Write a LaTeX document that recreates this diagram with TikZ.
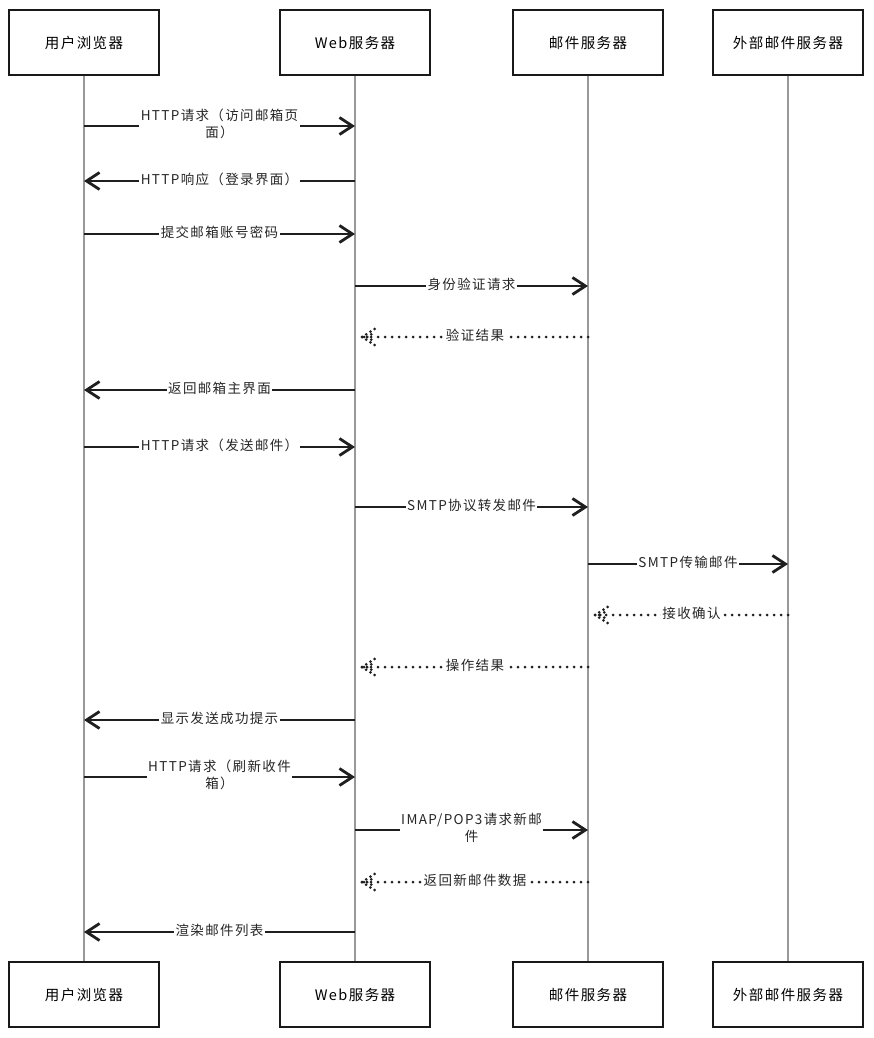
\documentclass[tikz,border=0pt]{standalone}
\usepackage{fontspec}
\setmainfont{Noto Sans CJK SC}[LetterSpace=10]
\usetikzlibrary{arrows.meta,calc}
\tikzset{
  actor/.style={draw=black!90, line width=2.6pt, fill=white, minimum width=150pt, minimum height=65pt, inner sep=0pt, font=\fontsize{14.5}{16}\selectfont},
  life/.style={draw=black!40, line width=1.1pt},
  msg/.style={draw=black!88, line width=2.8pt, -{Straight Barb[length=13pt,width=17pt]}},
  reply/.style={draw=black!88, line width=3pt, dash pattern=on 0pt off 7pt, line cap=round},
  replyhead/.style={draw=black!88, line width=3pt, dash pattern=on 0pt off 5pt, line cap=round},
  lbl/.style={fill=white, text=black!85, inner sep=1.5pt, font=\fontsize{13.5}{17.5}\selectfont, align=center, yshift=2pt}
}
\newcommand\solidmsg[4]{%
  \coordinate (m) at (0,-#3);
  \draw[msg] (#1 |- m) -- node[lbl]{#4} (#2 |- m);}
\newcommand\replymsg[4]{%
  \coordinate (m) at (0,-#3);
  \coordinate (t) at ($(#2 |- m)+(7,0)$);
  \draw[reply] (#1 |- m) -- node[lbl]{#4} (t);
  \draw[replyhead] (t) -- ($(t)+(14,9)$);
  \draw[replyhead] (t) -- ($(t)+(14,-9)$);
  \draw[replyhead] ($(t)+(5,0)$) -- ($(t)+(10,3)$);
  \draw[replyhead] ($(t)+(5,0)$) -- ($(t)+(10,-3)$);}
\begin{document}
\begin{tikzpicture}[x=1pt,y=1pt]
\useasboundingbox (0,0) rectangle (874,-1038);
% lifelines
\foreach \n/\x in {1/84,2/355,3/588,4/788}{
  \coordinate (L\n top) at (\x,-75);
  \coordinate (L\n bot) at (\x,-962);
}
\draw[life] (L1top) -- (L1bot);
\draw[life] (L2top) -- (L2bot);
\draw[life] (L3top) -- (L3bot);
\draw[life] (L4top) -- (L4bot);
% actors
\node[actor] (a1) at (84,-42.5) {用户浏览器};
\node[actor] (a2) at (355,-42.5) {Web服务器};
\node[actor] (a3) at (588,-42.5) {邮件服务器};
\node[actor] (a4) at (788,-42.5) {外部邮件服务器};
\node[actor] (b1) at (84,-994.5) {用户浏览器};
\node[actor] (b2) at (355,-994.5) {Web服务器};
\node[actor] (b3) at (588,-994.5) {邮件服务器};
\node[actor] (b4) at (788,-994.5) {外部邮件服务器};
% messages
\solidmsg{a1}{a2}{126}{HTTP请求（访问邮箱页\\面）}
\solidmsg{a2}{a1}{181}{HTTP响应（登录界面）}
\solidmsg{a1}{a2}{234}{提交邮箱账号密码}
\solidmsg{a2}{a3}{286}{身份验证请求}
\replymsg{a3}{a2}{337}{验证结果}
\solidmsg{a2}{a1}{390}{返回邮箱主界面}
\solidmsg{a1}{a2}{447}{HTTP请求（发送邮件）}
\solidmsg{a2}{a3}{507}{SMTP协议转发邮件}
\solidmsg{a3}{a4}{564}{SMTP传输邮件}
\replymsg{a4}{a3}{615}{接收确认}
\replymsg{a3}{a2}{667}{操作结果}
\solidmsg{a2}{a1}{720}{显示发送成功提示}
\solidmsg{a1}{a2}{777}{HTTP请求（刷新收件\\箱）}
\solidmsg{a2}{a3}{830}{IMAP/POP3请求新邮\\件}
\replymsg{a3}{a2}{882}{返回新邮件数据}
\solidmsg{a2}{a1}{932}{渲染邮件列表}
\end{tikzpicture}
\end{document}
